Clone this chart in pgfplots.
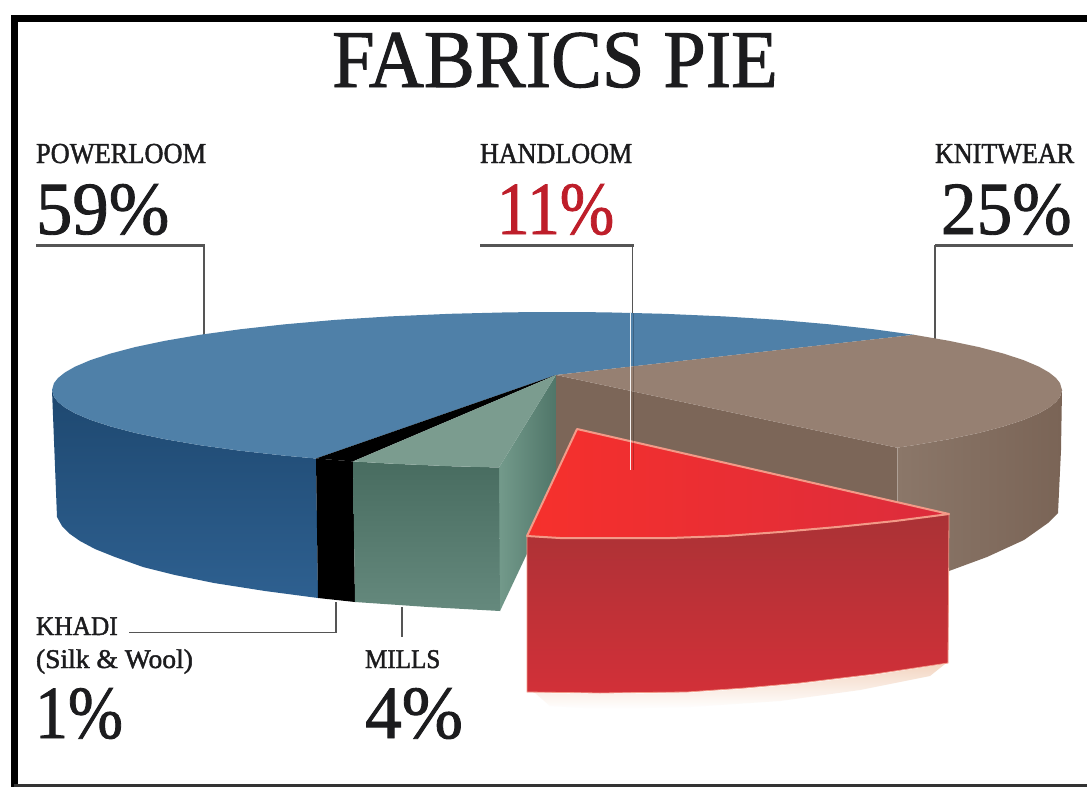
\documentclass[border=0pt]{standalone}
\usepackage{graphicx}
\usepackage{fontspec}
\setmainfont{Liberation Serif}
\newfontfamily\semib[FakeBold=1.6]{Liberation Serif}
\newfontfamily\headf[FakeBold=1.2]{Liberation Serif}
\usepackage{pgfplots}
\pgfplotsset{compat=1.18}
\definecolor{inkc}{HTML}{1C1C1E}
\definecolor{leader}{HTML}{555555}
\definecolor{bluetop}{HTML}{4F80A8}
\definecolor{blueA}{HTML}{1E4870}
\definecolor{blueB}{HTML}{2E6090}
\definecolor{browntop}{HTML}{968072}
\definecolor{brownin}{HTML}{7C6658}
\definecolor{brownA}{HTML}{8B7769}
\definecolor{brownB}{HTML}{7A6456}
\definecolor{greentop}{HTML}{7B9C8F}
\definecolor{greenA}{HTML}{486C60}
\definecolor{greenB}{HTML}{65897D}
\definecolor{greenC}{HTML}{739A8B}
\definecolor{greenD}{HTML}{4F7568}
\definecolor{redL}{HTML}{F6302C}
\definecolor{redR}{HTML}{DC2C3C}
\definecolor{redA}{HTML}{AA3236}
\definecolor{redB}{HTML}{D23038}
\definecolor{rededge}{HTML}{F39A88}
\definecolor{peach}{HTML}{F3D6C2}
\definecolor{hred}{HTML}{BE1E2A}
\tikzset{
  txt/.style={anchor=base west,inner sep=0pt,outer sep=0pt,text=inkc},
}
\begin{document}
\begin{tikzpicture}
\begin{axis}[
  scale only axis,width=1087pt,height=787pt,
  xmin=0,xmax=1087,ymin=0,ymax=787,y dir=reverse,
  hide axis,clip=true,
]
% page ground and frame
\addplot[draw=none,fill=white] coordinates {(0,0)(1087,0)(1087,787)(0,787)} --cycle;
\addplot[draw=black,line width=7pt] coordinates {(14.5,787)(14.5,18.5)(1087,18.5)};
\addplot[draw=black!80,line width=2.5pt] coordinates {(14,785.5)(1087,785.5)};

% leader lines above the pie
\addplot[draw=leader,line width=3pt] coordinates {(36,245)(205,245)};
\addplot[draw=leader,line width=1.4pt] coordinates {(204,245)(204,336)};
\addplot[draw=leader,line width=3pt] coordinates {(480,245)(634,245)};
\addplot[draw=leader,line width=1.4pt] coordinates {(632.5,245)(632.5,313)};
\addplot[draw=leader,line width=3pt] coordinates {(935,245)(1073,245)};
\addplot[draw=leader,line width=1.4pt] coordinates {(935,245)(935,342)};

% powerloom: rim then top
\addplot[draw=none,top color=blueA,bottom color=blueB] coordinates {
 (52,390)(54,396.9)(58,402)(65,407.6)(75,413.3)(90,419.7)(110,426.3)(135,432.9)(165,439.2)(200,445.2)(240,450.7)(285,455.7)(316,458.5)
 (318,598)(265,591)(214,583)(175,575)(143,567)(115,557)(95,549)(80,541)(70,534)(62,526)(57,517)} --cycle;
\addplot[draw=none,fill=bluetop] coordinates {
 (556,375)(316,458.5)(285,455.7)(240,450.7)(200,445.2)(165,439.2)(135,432.9)(110,426.3)(90,419.7)(75,413.3)(65,407.6)(58,402)(54,396.9)(52,390)
 (54,383.1)(58,378)(65,372.4)(75,366.7)(90,360.3)(110,353.7)(135,347.1)(165,340.8)(200,334.8)(240,329.3)(285,324.3)(335,319.9)(390,316.4)(450,313.8)(510,312.3)(557,312)
 (604,312.3)(664,313.8)(724,316.4)(779,319.9)(829,324.3)(874,329.3)(914,334.8)} --cycle;

% khadi
\addplot[draw=none,fill=black] coordinates {(316,458.5)(353,461.4)(355,602)(318,598)} --cycle;
\addplot[draw=none,fill=black] coordinates {(556,375)(316,458.5)(353,461.4)} --cycle;

% mills
\addplot[draw=none,left color=greenC,right color=greenD] coordinates {(499,467.5)(556,375)(557,490)(500,611)} --cycle;
\addplot[draw=none,top color=greenA,bottom color=greenB] coordinates {(353,461.4)(390,463.6)(450,466.2)(499,467.5)(500,611)(428,607)(355,602)} --cycle;
\addplot[draw=none,fill=greentop] coordinates {(556,375)(353,461.4)(390,463.6)(450,466.2)(499,467.5)} --cycle;

% knitwear: cut face, rim, top
\addplot[draw=none,fill=brownin] coordinates {(556,375)(897,447.7)(897,530)(556,490)} --cycle;
\addplot[draw=none,left color=brownA,right color=brownB] coordinates {
 (897,447.7)(914,445.2)(949,439.2)(979,432.9)(1004,426.3)(1024,419.7)(1039,413.3)(1049,407.6)(1056,402)(1060,396.9)(1062,390)
 (1061,450)(1058,513)(1048,523)(1024,540)(987,557)(949,571)(930,577)(897,540)} --cycle;
\addplot[draw=none,fill=browntop] coordinates {
 (556,375)(914,334.8)(949,340.8)(979,347.1)(1004,353.7)(1024,360.3)(1039,366.7)(1049,372.4)(1056,378)(1060,383.1)(1062,390)
 (1060,396.9)(1056,402)(1049,407.6)(1039,413.3)(1024,419.7)(1004,426.3)(979,432.9)(949,439.2)(914,445.2)(897,447.7)} --cycle;
\addplot[draw=brownA!70!white,line width=1pt] coordinates {(897,448)(897,508)};

% handloom: lifted slice with its shadow
\addplot[draw=none,top color=peach,bottom color=white] coordinates {
 (535,693)(600,694)(687,693)(745,689)(800,684)(875,675)(945,664)(930,676)(860,690)(780,701)(690,707)(600,709)(550,706)} --cycle;
\addplot[draw=rededge,line width=0.8pt,top color=redA,bottom color=redB] coordinates {
 (527,536)(560,538)(612,538)(670,538)(725,536)(780,532)(837,527)(895,521)(949,514)
 (948,663)(875,674)(800,683)(745,688)(687,692)(600,693)(527,692)} --cycle;
\addplot[draw=rededge,line width=2pt,left color=redL,right color=redR,line join=round] coordinates {
 (577,429)(949,514)(895,521)(837,527)(780,532)(725,536)(670,538)(612,538)(560,538)(527,536)} --cycle;

% handloom leader across the pie
\addplot[draw=black,opacity=0.22,line width=1.4pt] coordinates {(633.5,313)(633.5,470)};
\addplot[draw=white,opacity=0.9,line width=1.6pt] coordinates {(630.5,313)(630.5,470)};

% leaders below the pie
\addplot[draw=leader,line width=1.4pt] coordinates {(129,632.5)(336,632.5)(336,602)};
\addplot[draw=leader,line width=1.4pt] coordinates {(402,607)(402,637)};

% text
\node[txt,anchor=base] at (axis cs:555,87) {\scalebox{0.93}[1]{\fontsize{82}{82}\headf FABRICS PIE}};
\node[txt] at (axis cs:36,163) {\scalebox{0.91}[1]{\fontsize{29}{29}\semib POWERLOOM}};
\node[txt] at (axis cs:480,163) {\scalebox{0.90}[1]{\fontsize{29}{29}\semib HANDLOOM}};
\node[txt] at (axis cs:935,163) {\scalebox{0.90}[1]{\fontsize{29}{29}\semib KNITWEAR}};
\node[txt] at (axis cs:36,234) {\scalebox{0.97}[1]{\fontsize{75}{75}\headf 59\%}};
\node[txt,text=hred] at (axis cs:497,234) {\scalebox{0.87}[1]{\fontsize{75}{75}\headf 11\%}};
\node[txt] at (axis cs:941,234) {\scalebox{0.95}[1]{\fontsize{75}{75}\headf 25\%}};
\node[txt] at (axis cs:36,635) {\scalebox{0.94}[1]{\fontsize{27}{27}\semib KHADI}};
\node[txt] at (axis cs:36,668) {\scalebox{1.02}[1]{\fontsize{27}{27}\semib (Silk \& Wool)}};
\node[txt] at (axis cs:365,668) {\scalebox{0.93}[1]{\fontsize{27}{27}\semib MILLS}};
\node[txt] at (axis cs:35,738) {\scalebox{0.88}[1]{\fontsize{75}{75}\headf 1\%}};
\node[txt] at (axis cs:365,738) {\scalebox{0.98}[1]{\fontsize{75}{75}\headf 4\%}};
\end{axis}
\end{tikzpicture}
\end{document}
